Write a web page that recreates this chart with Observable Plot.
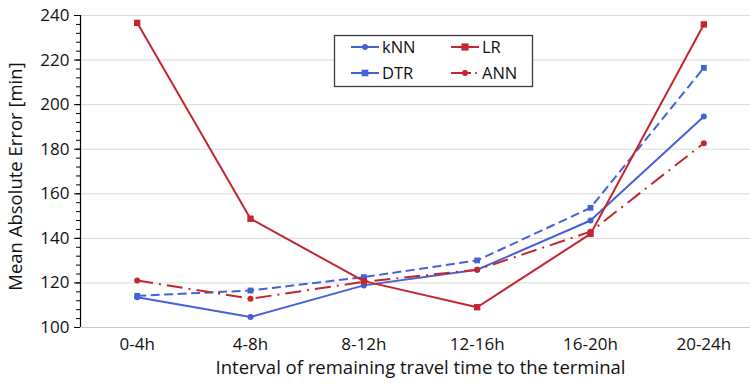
<!DOCTYPE html>
<html>
<head>
<meta charset="utf-8">
<script src="https://cdn.jsdelivr.net/npm/d3@7"></script>
<script src="https://cdn.jsdelivr.net/npm/@observablehq/plot@0.6"></script>
<style>
  html, body { margin: 0; padding: 0; background: #fff; }
  #chart { position: relative; width: 750px; height: 386px; font-family: "Open Sans", sans-serif; }
  #legend { position: absolute; left: 0; top: 0; pointer-events: none; }
</style>
</head>
<body>
<div id="chart"></div>
<script>
// Time-to-terminal intervals (x categories)
const intervals = ["0-4h", "4-8h", "8-12h", "12-16h", "16-20h", "20-24h"];

// Mean absolute error per model, in minutes
const knn = [113.6, 104.7, 118.9, 125.9, 148.0, 194.7];
const dtr = [114.2, 116.6, 122.6, 130.1, 153.7, 216.5];
const lr  = [236.7, 148.8, 120.8, 109.1, 142.0, 236.0];
const ann = [121.1, 112.9, 120.5, 125.9, 143.0, 182.7];

const yTicks = [100, 120, 140, 160, 180, 200, 220, 240];

const BLUE = "#4561d6";
const RED = "#c4262f";

const series = [
  {name: "kNN", values: knn, color: BLUE, dash: null, symbol: "circle", r: 3},
  {name: "DTR", values: dtr, color: BLUE, dash: "9,4.5", symbol: "square", r: 3.3},
  {name: "LR",  values: lr,  color: RED,  dash: null, symbol: "square", r: 3.6},
  {name: "ANN", values: ann, color: RED,  dash: "16,6,2,6", symbol: "circle", r: 3}
];

const rows = series.flatMap(s =>
  s.values.map((v, i) => ({model: s.name, i, mae: v}))
);

const marks = [
  // horizontal gridlines
  Plot.ruleY(yTicks, {stroke: "#d9d9d9", strokeWidth: 1}),
  // bottom axis line
  Plot.ruleY([100], {stroke: "#c8c8c8", strokeWidth: 1.2}),
  // left axis line
  Plot.ruleX([-0.5], {stroke: "#000", strokeWidth: 1.2}),
  // minor y ticks
  Plot.axisY(d3.range(100, 241, 4), {tickSize: 4, text: null, stroke: "#000", label: null}),
  // major y ticks with labels
  Plot.axisY(yTicks, {tickSize: 6, tickPadding: 5, fontSize: 17, fill: "#111", stroke: "#000", label: null}),
  // category labels
  Plot.axisX(d3.range(intervals.length), {
    tickSize: 0, tickPadding: 10, fontSize: 17, fill: "#111",
    tickFormat: i => intervals[i], label: null
  })
];

for (const s of series) {
  const data = rows.filter(d => d.model === s.name);
  marks.push(Plot.line(data, {
    x: "i", y: "mae", stroke: s.color, strokeWidth: 2,
    strokeDasharray: s.dash, strokeLinecap: "butt", curve: "linear"
  }));
  marks.push(Plot.dot(data, {
    x: "i", y: "mae", symbol: s.symbol, r: s.r, fill: s.color, stroke: "none"
  }));
}

// axis titles
marks.push(Plot.text(["Interval of remaining travel time to the terminal"], {
  frameAnchor: "bottom", textAnchor: "middle", dy: 46, dx: 5, fontSize: 18.5, fill: "#111"
}));
marks.push(Plot.text(["Mean Absolute Error [min]"], {
  frameAnchor: "left", textAnchor: "middle", rotate: -90, dx: -64, dy: 5, fontSize: 18.5, fill: "#111"
}));

const plot = Plot.plot({
  width: 750,
  height: 386,
  marginLeft: 80,
  marginRight: 0,
  marginTop: 15,
  marginBottom: 59,
  style: {fontFamily: "'Open Sans', sans-serif", background: "#fff", overflow: "hidden"},
  x: {type: "linear", domain: [-0.5, intervals.length - 0.5], range: [80, 760], axis: null},
  y: {domain: [100, 240], axis: null},
  marks
});

const chart = document.getElementById("chart");
chart.appendChild(plot);

// legend box
const lg = d3.select(chart).append("svg")
  .attr("id", "legend")
  .attr("width", 750).attr("height", 386);

lg.append("rect")
  .attr("x", 334.5).attr("y", 35.5).attr("width", 198).attr("height", 51)
  .attr("fill", "#fff").attr("stroke", "#3a3a3a").attr("stroke-width", 1.3);

const cols = [351, 451];
const rowsY = [47, 73];
series.forEach((s, k) => {
  const col = k < 2 ? 0 : 1;
  const row = k % 2;
  const x0 = cols[col], y0 = rowsY[row];
  const g = lg.append("g");
  if (s.name === "ANN") {
    g.append("line").attr("x1", x0).attr("x2", x0 + 20).attr("y1", y0).attr("y2", y0)
      .attr("stroke", s.color).attr("stroke-width", 2);
    g.append("circle").attr("cx", x0 + 25).attr("cy", y0).attr("r", 1.1).attr("fill", s.color);
  } else {
    g.append("line").attr("x1", x0).attr("x2", x0 + 28).attr("y1", y0).attr("y2", y0)
      .attr("stroke", s.color).attr("stroke-width", 2);
  }
  if (s.symbol === "circle") {
    g.append("circle").attr("cx", x0 + 14).attr("cy", y0).attr("r", s.r).attr("fill", s.color);
  } else {
    g.append("rect").attr("x", x0 + 14 - s.r).attr("y", y0 - s.r)
      .attr("width", 2 * s.r).attr("height", 2 * s.r).attr("fill", s.color);
  }
  g.append("text").attr("x", x0 + 31).attr("y", y0).attr("dy", "0.36em")
    .attr("font-size", 16.5).attr("fill", "#111")
    .attr("font-family", "'Open Sans', sans-serif")
    .text(s.name);
});
</script>
</body>
</html>
